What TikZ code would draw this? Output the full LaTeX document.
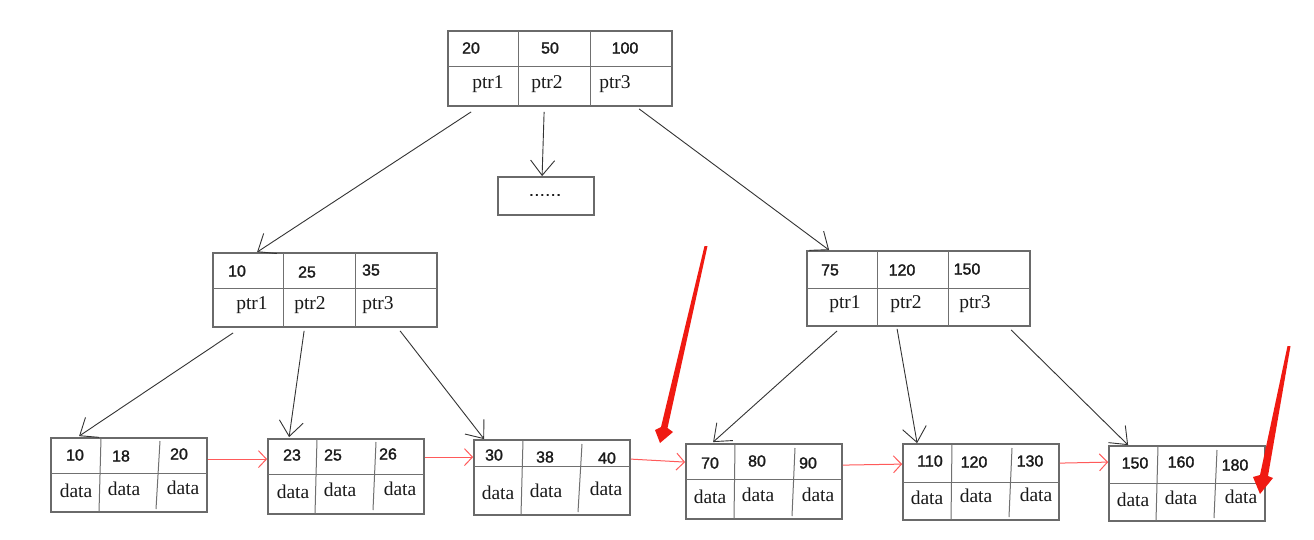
\documentclass[tikz,border=0pt]{standalone}
\usepackage{fontspec}
\setmainfont{Liberation Serif}
\newfontfamily\numfont[FakeBold=1.6]{Liberation Sans}
\usetikzlibrary{arrows.meta,calc}
\definecolor{boxgray}{HTML}{6A6A6A}
\definecolor{innergray}{HTML}{707070}
\definecolor{arrowgray}{HTML}{333333}
\definecolor{linkred}{HTML}{FF5A5A}
\definecolor{bigred}{HTML}{F01A12}
\definecolor{txtgray}{HTML}{1A1A1A}
\tikzset{
  keybox/.style={draw=boxgray, line width=1.8pt, rectangle, inner sep=0pt},
  divline/.style={draw=innergray, line width=1pt},
  numtxt/.style={font=\numfont\fontsize{16}{16}\selectfont, text=txtgray, inner sep=0pt},
  sertxt/.style={font=\fontsize{19.5}{19.5}\selectfont, text=txtgray, inner sep=0pt},
  ptrarrow/.style={draw=arrowgray, line width=0.9pt, -{Straight Barb[length=15pt,width=24pt,line width=0.9pt]}},
  linkarrow/.style={draw=linkred, line width=1pt, -{Straight Barb[length=8pt,width=17pt,line width=1pt]}},
  bigarrow/.style={fill=bigred, draw=none}
}
% box: name, left, top, right, bottom
\newcommand\mkbox[5]{\node[keybox, minimum width={#4pt-#2pt}, minimum height={#5pt-#3pt}] (#1) at ({(#2+#4)/2},{(#3+#5)/2}) {};}
\begin{document}
\begin{tikzpicture}[x=1pt,y=-1pt]
\useasboundingbox[fill=white] (0,0) rectangle (1314,539);

% ---------- root ----------
\mkbox{root}{448}{31}{672}{106}
\draw[divline] (448,66) -- (672,66);
\draw[divline] (518,31) -- (518,106);
\draw[divline] (590,31) -- (590,106);
\node[numtxt] (r1) at (471,48) {20};
\node[numtxt] (r2) at (550,48) {50};
\node[numtxt] (r3) at (625,48) {100};
\node[sertxt] (r4) at (488,84) {ptr1};
\node[sertxt] (r5) at (547,84) {ptr2};
\node[sertxt] (r6) at (615,84) {ptr3};

% ---------- dots box ----------
\mkbox{dots}{498}{177}{594}{215}
\node[numtxt] (dt) at (545,195) {.\kern1pt.\kern1pt.\kern1pt.\kern1pt.\kern1pt.};

% ---------- left internal ----------
\mkbox{lint}{213}{253}{437}{327}
\draw[divline] (213,288) -- (437,288);
\draw[divline] (283,253) -- (283,327);
\draw[divline] (355,253) -- (355,327);
\node[numtxt] (a1) at (237,271) {10};
\node[numtxt] (a2) at (307,272) {25};
\node[numtxt] (a3) at (371,270) {35};
\node[sertxt] (a4) at (252,305) {ptr1};
\node[sertxt] (a5) at (310,305) {ptr2};
\node[sertxt] (a6) at (378,305) {ptr3};

% ---------- right internal ----------
\mkbox{rint}{807}{251}{1030}{326}
\draw[divline] (807,288) -- (1030,288);
\draw[divline] (877,251) -- (877,326);
\draw[divline] (948,251) -- (948,326);
\node[numtxt] (b1) at (830,270) {75};
\node[numtxt] (b2) at (902,270) {120};
\node[numtxt] (b3) at (967,269) {150};
\node[sertxt] (b4) at (845,304) {ptr1};
\node[sertxt] (b5) at (906,304) {ptr2};
\node[sertxt] (b6) at (975,304) {ptr3};

% ---------- leaf 1 ----------
\mkbox{lf1}{51}{438}{207}{512}
\draw[divline] (51,473) -- (207,473);
\draw[divline] (101,438) -- (99,512);
\draw[divline] (160,441) -- (156,509);
\node[numtxt] (c1) at (75,455) {10};
\node[numtxt] (c2) at (121,456) {18};
\node[numtxt] (c3) at (179,454) {20};
\node[sertxt] (c4) at (76,491) {data};
\node[sertxt] (c5) at (124,489) {data};
\node[sertxt] (c6) at (183,488) {data};

% ---------- leaf 2 ----------
\mkbox{lf2}{268}{439}{424}{514}
\draw[divline] (268,474) -- (424,474);
\draw[divline] (317,439) -- (315,514);
\draw[divline] (376,442) -- (373,510);
\node[numtxt] (d1) at (292,455) {23};
\node[numtxt] (d2) at (333,455) {25};
\node[numtxt] (d3) at (388,454) {26};
\node[sertxt] (d4) at (293,492) {data};
\node[sertxt] (d5) at (340,490) {data};
\node[sertxt] (d6) at (400,489) {data};

% ---------- leaf 3 ----------
\mkbox{lf3}{474}{440}{630}{515}
\draw[divline] (474,466) -- (630,466);
\draw[divline] (523,440) -- (521,515);
\draw[divline] (582,444) -- (578,512);
\node[numtxt] (e1) at (494,455) {30};
\node[numtxt] (e2) at (545,457) {38};
\node[numtxt] (e3) at (607,458) {40};
\node[sertxt] (e4) at (498,493) {data};
\node[sertxt] (e5) at (546,491) {data};
\node[sertxt] (e6) at (606,489) {data};

% ---------- leaf 4 ----------
\mkbox{lf4}{686}{444}{842}{519}
\draw[divline] (686,479) -- (842,479);
\draw[divline] (735,444) -- (734,519);
\draw[divline] (795,448) -- (792,516);
\node[numtxt] (f1) at (710,463) {70};
\node[numtxt] (f2) at (757,461) {80};
\node[numtxt] (f3) at (808,463) {90};
\node[sertxt] (f4) at (710,497) {data};
\node[sertxt] (f5) at (758,495) {data};
\node[sertxt] (f6) at (818,495) {data};

% ---------- leaf 5 ----------
\mkbox{lf5}{903}{444}{1059}{520}
\draw[divline] (903,482) -- (1059,482);
\draw[divline] (952,444) -- (951,520);
\draw[divline] (1012,448) -- (1009,517);
\node[numtxt] (g1) at (930,461) {110};
\node[numtxt] (g2) at (974,462) {120};
\node[numtxt] (g3) at (1030,461) {130};
\node[sertxt] (g4) at (927,498) {data};
\node[sertxt] (g5) at (976,496) {data};
\node[sertxt] (g6) at (1036,495) {data};

% ---------- leaf 6 ----------
\mkbox{lf6}{1109}{446}{1265}{521}
\draw[divline] (1109,483) -- (1265,483);
\draw[divline] (1158,446) -- (1156,521);
\draw[divline] (1217,450) -- (1214,518);
\node[numtxt] (h1) at (1135,463) {150};
\node[numtxt] (h2) at (1181,462) {160};
\node[numtxt] (h3) at (1235,465) {180};
\node[sertxt] (h4) at (1133,500) {data};
\node[sertxt] (h5) at (1181,498) {data};
\node[sertxt] (h6) at (1241,497) {data};

% ---------- pointer arrows ----------
\coordinate (s1) at ($(root.south west)+(24,5)$);
\coordinate (s2) at ($(root.south west)+(97,5)$);
\coordinate (s3) at ($(root.south west)+(192,2)$);
\coordinate (t1) at ($(lint.north west)+(45,0)$);
\coordinate (t2) at ($(dots.north west)+(45,0)$);
\coordinate (t3) at ($(rint.north west)+(23,0)$);
\draw[ptrarrow] (s1) -- (t1);
\draw[ptrarrow] (s2) -- (t2);
\draw[ptrarrow] (s3) -- (t3);

\coordinate (u1) at ($(lint.south west)+(21,5)$);
\coordinate (u2) at ($(lint.south west)+(92,3)$);
\coordinate (u3) at ($(lint.south west)+(188,3)$);
\coordinate (v1) at ($(lf1.north west)+(29,-1)$);
\coordinate (v2) at ($(lf2.north west)+(22,-1)$);
\coordinate (v3) at ($(lf3.north west)+(11,0)$);
\draw[ptrarrow] (u1) -- (v1);
\draw[ptrarrow] (u2) -- (v2);
\draw[ptrarrow] (u3) -- (v3);

\coordinate (w1) at ($(rint.south west)+(31,4)$);
\coordinate (w2) at ($(rint.south west)+(91,2)$);
\coordinate (w3) at ($(rint.south west)+(205,3)$);
\coordinate (z1) at ($(lf4.north west)+(28,-1)$);
\coordinate (z2) at ($(lf5.north west)+(15,0)$);
\coordinate (z3) at ($(lf6.north west)+(20,0)$);
\draw[ptrarrow] (w1) -- (z1);
\draw[ptrarrow] (w2) -- (z2);
\draw[ptrarrow] (w3) -- (z3);

% ---------- leaf links ----------
\draw[linkarrow] ($(lf1.north east)+(0,22)$) -- ($(lf2.north west)+(0,21)$);
\draw[linkarrow] ($(lf2.north east)+(0,19)$) -- ($(lf3.north west)+(0,18)$);
\draw[linkarrow] ($(lf3.north east)+(0,20)$) -- ($(lf4.north west)+(0,19)$);
\draw[linkarrow] ($(lf4.north east)+(0,22)$) -- ($(lf5.north west)+(0,21)$);
\draw[linkarrow] ($(lf5.north east)+(0,20)$) -- ($(lf6.north west)+(0,17)$);

% ---------- big red arrows ----------
\path[bigarrow] (704.5,246) -- (707.5,246) -- (667.5,428) -- (673,432) -- (660,443) -- (655,430) -- (661,427) -- cycle;
\path[bigarrow] (1287.5,346) -- (1290.5,346) -- (1268,476) -- (1273,478) -- (1260,494) -- (1253,477) -- (1260,475) -- cycle;
\end{tikzpicture}
\end{document}
